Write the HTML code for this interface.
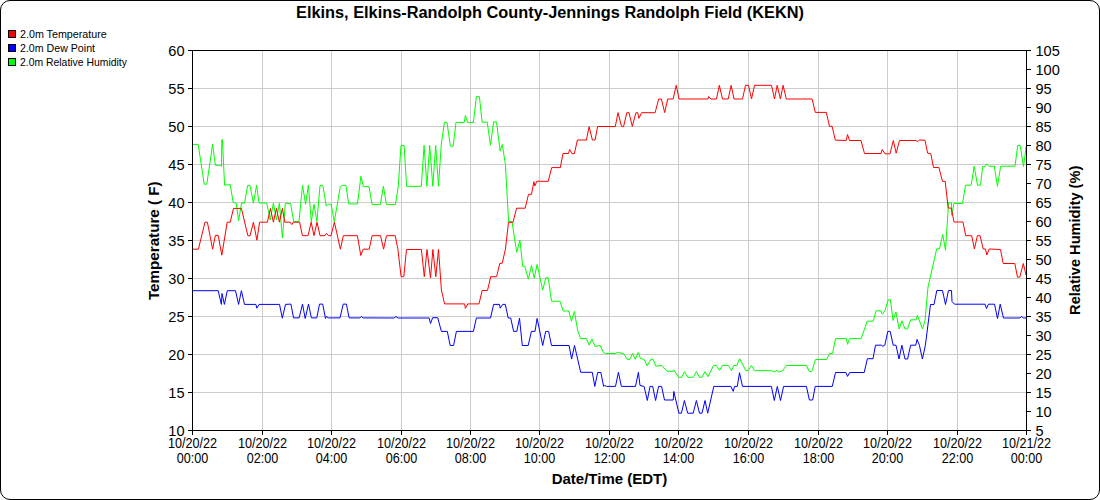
<!DOCTYPE html><html><head><meta charset="utf-8"><style>html,body{margin:0;padding:0;background:#fff;overflow:hidden;}svg{display:block;font-family:"Liberation Sans",sans-serif;}</style></head><body><svg width="1100" height="500" viewBox="0 0 1100 500"><rect x="0.5" y="0.5" width="1099" height="499" rx="9.5" ry="9.5" fill="#fff" stroke="#000" stroke-width="1"/>
<path d="M262.5 50V430M331.5 50V430M401.5 50V430M470.5 50V430M539.5 50V430M609.5 50V430M678.5 50V430M748.5 50V430M818.5 50V430M887.5 50V430M957.5 50V430M192 88.5H1026M192 126.5H1026M192 164.5H1026M192 202.5H1026M192 240.5H1026M192 278.5H1026M192 316.5H1026M192 354.5H1026M192 392.5H1026" stroke="#cccccc" stroke-width="1" fill="none"/>
<polyline fill="none" stroke="#00ff00" stroke-width="1" stroke-linejoin="miter" stroke-miterlimit="10" points="192,144.4 198.2,144.4 204.2,184.2 206.8,184.2 212.6,144.4 215.4,165.3 220.6,165.3 221.5,166.5 221.8,139.6 222.4,139.6 224.6,185.2 230.2,184.6 233.2,202.4 236.2,203.2 238.6,220.6 241.6,202.9 244.6,203.2 247.6,185.6 250,185.6 253.4,203.2 256.6,185.2 259,202.9 266.8,203.2 270.2,220 273.4,203.2 276.4,220 279.4,203.2 282.4,238 285.4,203.2 290.6,203.6 293.7,221.5 299,221.5 302.5,185.1 305.6,204.3 308.4,185.1 311.3,221.8 314,204.3 316.9,221.5 320,185.4 322.8,185.4 326.3,206.1 328.4,204.3 331.2,204.3 334.3,221.8 340.3,186.5 342.7,185.4 345.9,185.4 348.7,203.9 357.5,203.9 360.9,176.3 363.4,186.5 369,186.5 372,204.4 380.4,204.4 383.4,186.2 386.4,204.4 395.4,204.4 398.2,187 401,145.4 404.1,145.4 406.6,186.3 421.3,186.3 424.1,145.4 426.9,186.3 429.7,145.4 432.8,186.3 435.7,145.4 438.5,186.3 441.3,144 444.4,122.4 447,122.4 450.4,146.2 453.2,146.2 456,122.4 464.2,122.4 465.4,115.5 467.7,122.4 473.4,122.4 476.4,96.6 479.4,96.6 482.1,122.2 487.2,122.2 490.5,145.2 493.6,121.8 496.5,121.8 500.1,151.1 502.3,144.5 505.4,164.4 508.6,221.6 512,221.6 516.7,252.3 519.9,240 522.7,266.3 524.8,266.3 528.3,279.2 531.5,265.5 534.2,278.1 537.1,264.5 542.7,290.1 545.8,277.8 548.3,277.8 551.5,301.2 560,301.2 563.2,311 568.8,311 571.4,321.2 574.4,311.4 577.7,330.5 580.5,338.5 586.4,338.5 589.2,345.2 591.9,339 595,346.4 600.2,345.5 603.5,352.7 605.5,353.5 615.5,353.5 617.7,352.3 619.5,352.9 623.6,353.5 627.3,359.5 629.7,359.5 632.6,353.5 635.3,359.3 638.2,352.5 640.5,358.6 644.1,359.3 647.1,365.9 650.9,359.3 653.2,359.3 655.7,366.1 661.8,365.5 667,371.2 673.2,371.4 673.8,370 678.6,377.3 681.8,377.3 684.5,371.6 687.7,377.3 693.2,377.3 696.4,371.6 699.5,377.3 701.9,377.3 704.9,371.7 708,376.7 713.6,365.4 716.4,365.4 719.5,370.3 722.4,365.4 728.3,365.4 731.4,370.6 733.9,365.5 736.7,365.5 739.7,358.7 745.8,370.6 748.3,370.6 751.4,365.5 754.6,370.6 771.4,370.7 774.3,371.8 777,370.5 778.6,372 782.3,370.9 786.4,365.5 806.4,365.5 809.1,371.4 811.8,371.4 815.5,359.5 826.5,359.5 829.6,353.5 832.6,353.5 835.5,338.6 846.3,338.6 847.6,344.3 849.4,338.6 861.2,338.6 867.2,321.2 873.3,321.2 876,310.8 881,310.8 882.3,314.3 884.9,310.8 888.2,299.8 890.4,299.8 893.1,320.5 895.9,311.9 899.2,329 901.9,320.7 905,329 907.4,329 910.7,319.8 916.2,319.8 917.3,315.4 922.6,329 925,320.7 928,287 936.7,248.9 939.5,248.9 942.7,234.5 945.5,250.3 948.6,202.7 951.4,202.7 951.7,215.3 953.9,203.4 962.5,203.5 965.5,185.2 971.2,185.2 974.2,166.2 977.5,185.2 980.5,185.2 982.7,166.5 985,166.5 986.5,163.8 988.7,166.2 994.3,166.2 997.4,186.3 1000.7,166.2 1015,166.2 1017.7,145.5 1020.2,145.5 1023.5,166.5 1026.2,146.2"/>
<polyline fill="none" stroke="#0000ff" stroke-width="1" stroke-linejoin="miter" stroke-miterlimit="10" points="192,290.7 218.2,290.7 221.4,304.4 222,293.5 224.4,304.4 227.3,290.7 235.5,290.7 238.6,304.4 241.4,290.7 244.5,304.4 255.9,304.4 256.8,308.2 259.1,304.4 279.5,304.4 282.3,318.2 285.5,304.4 290.9,304.1 293.6,317.9 299.1,317.9 302.5,304.1 305.2,318.5 308.5,304.1 311.4,317.9 316.8,317.9 319.5,304.1 322.7,304.1 325.5,318.5 326.4,316.5 328.6,317.9 340,317.9 343.2,304.1 346.4,304.1 349.1,317.9 360,317.9 361.4,316.5 363.2,317.9 394.5,318 395.6,316.4 398.2,318 429.1,318 430.5,323.5 432.7,317.7 437.7,317.7 441.4,331.4 447.3,331.4 450.2,345.5 453.6,345.5 456.4,331.4 473.4,331.4 476.4,318 490.5,318 493.6,304.4 499.5,304.4 500.2,308.2 502.7,304.4 505.3,304.4 508.2,318 510.7,318 513.6,331.4 516.8,331.4 519.5,318.2 522.3,345.5 528.2,345.5 531.4,331.4 535,331.4 537.1,318.4 542.7,345.5 545.7,331.4 548.6,331.4 551.5,345.5 569.1,345.5 571.6,359.1 574.5,345.5 580.7,372.3 592.3,372.3 594.8,386.4 597.7,372.5 600.9,372.5 603.6,386.4 604.7,385.5 606.4,386.4 615.5,386.4 618.4,372.3 621.4,386.4 635.5,386.4 638.4,372.3 640,385.5 644.1,386.4 647.3,400.5 650,386.4 652.7,386.4 655.6,400.5 658.6,386.4 661.6,386.4 664.5,400 673.2,400 673.8,391.4 678.9,413.2 681.4,413.2 684.4,400.5 687.7,413.2 693.2,413.2 696.4,400.5 699.5,413.2 702,413.2 705,400.5 707.7,413.2 713.8,386.4 730.9,386.4 733.2,391.4 734.5,386.4 737.3,386.4 739.5,372.7 742.5,386.4 771.4,386.4 774.3,400.5 777.3,386.4 780.5,400.5 783.6,386.4 806.4,386.4 809.4,400 812.7,400 815.2,386.4 832.3,386.4 835.5,372.5 845.9,372.5 847.5,376.4 849.7,372.5 864.2,372.5 867.4,358.7 873,358.7 875.5,345.2 881.8,345.2 882.7,346.4 884.8,345.2 887.8,331.4 890.2,331.4 893.2,345.2 896,345.2 899,359 901.9,345.2 905,359 907.6,359 910.6,345.2 915.8,345.2 917,339.4 919.4,345.2 922.4,359 925.4,345.2 930.5,304.5 934,304.5 936.8,290.5 942.5,290.5 945.5,304.5 948.5,290.5 951.5,290.5 952,301.5 954.5,304.2 985,304.2 986.5,308.5 988.5,304.2 994.5,304.2 997.5,318.5 1000.2,304.2 1003.5,318 1020,318 1021.5,316.5 1023.5,318 1026,318"/>
<polyline fill="none" stroke="#ff0000" stroke-width="1" stroke-linejoin="miter" stroke-miterlimit="10" points="192,249.2 198.4,249.2 205,222.2 207.4,222.2 212.6,249.2 215.4,235.4 218.2,235.4 221.8,255.2 227.2,222.2 230.2,222.2 233.5,208.4 241.4,208.4 247.9,235.8 250,235.8 253.4,222.2 256.9,240.2 259.6,222.2 267.4,222.2 270.4,208.4 273.4,222.2 276.4,208.4 279.4,222.2 282.4,208.4 284.8,222.2 290.2,222.2 291.8,224.6 293.2,222.2 299.6,222.2 302.4,235.7 308,235.7 311.2,222.2 314,235.7 317,222.2 320,235.7 325,235.7 326.5,233.4 328.6,235.7 331,235.7 334.4,222.2 340.4,249.2 343.3,235.7 357.4,235.7 360.8,255.5 363.2,249.2 369.2,249.2 372.1,235.7 380.5,235.7 383.6,249.2 386.5,235.7 395.2,235.7 397.9,249.2 401.1,276.7 403.8,276.7 406.5,249.5 421.4,249.5 424.3,276.7 427,249.5 430.5,278 432.9,249.5 435.8,276.7 438.5,249.5 441.4,290 444.6,303.9 464.6,303.9 465.4,308.4 467.8,303.9 479,303.9 482.2,290.5 487.5,290.5 490.7,276.7 496.6,276.7 499.8,263.3 502.2,263.3 505.4,249.3 508.5,222.3 513,222.3 516.6,208.2 525.2,208.2 528.5,194.3 531.5,194.3 533.9,181.7 534.8,185.9 536.9,181.2 548.2,181.4 551.7,167.6 560.3,167.6 563,153.5 568.4,153.5 569.7,149.5 572,153.7 574.4,153.7 577.4,140 586.4,140 589.1,126.7 592.4,140 595.1,140 597.6,126.5 615.3,126.5 618,112.6 621.5,126.4 623.6,126.4 626.8,112.7 629,112.7 632.3,126.4 635.9,112.7 637.7,112.7 638.9,118.3 641.6,112.7 655.1,112.7 658.7,99 661.4,99 664.7,112.7 667.7,99 673.2,99 676.2,85.3 679.1,99 708,99 708.5,96.5 711,99 716.5,99 719.3,85.3 722.5,99 728.2,99 731.2,85.3 734,99 742.5,99 745.5,85.3 748.5,85.3 751.5,99 754.5,85.3 771.5,85.3 774.5,99 777.2,85.3 780.4,99 783.1,85.3 786.3,99 812.1,99 815.3,112.4 826.3,112.4 829.5,126.3 832.1,126.3 835.3,140.1 846.2,140.5 847.5,134.5 849.5,140.5 861,140.5 864.5,153.5 881,153.5 882.2,149.5 885,153.8 890,153.8 893.3,140.5 896.2,153.2 899.5,140.5 916,140.5 917.5,141.5 919.5,140 925,140.3 927.6,153.1 930.8,153.8 933.5,167.5 938.9,167.5 942.5,181.4 945.2,181.4 948.2,208.1 951.3,208.1 954,222 963,222 965.7,235.7 971.7,235.7 974.4,249 977.4,235.7 980.1,235.7 983.2,249 985.5,249 986.8,255 989.1,249 1000.5,249.5 1003.2,263.5 1014.8,263.5 1017.5,277.2 1019.8,277.2 1023.3,263.5 1026,275"/>
<path d="M192.5 50V430.5H1026.5V50.5H192" stroke="#000" stroke-width="1" fill="none"/>
<path d="M188 50.5H192M188 88.5H192M188 126.5H192M188 164.5H192M188 202.5H192M188 240.5H192M188 278.5H192M188 316.5H192M188 354.5H192M188 392.5H192M188 430.5H192M1026 50.5H1031M1026 69.5H1031M1026 88.5H1031M1026 107.5H1031M1026 126.5H1031M1026 145.5H1031M1026 164.5H1031M1026 183.5H1031M1026 202.5H1031M1026 221.5H1031M1026 240.5H1031M1026 259.5H1031M1026 278.5H1031M1026 297.5H1031M1026 316.5H1031M1026 335.5H1031M1026 354.5H1031M1026 373.5H1031M1026 392.5H1031M1026 411.5H1031M1026 430.5H1031M192.5 430V435M262.5 430V435M331.5 430V435M401.5 430V435M470.5 430V435M539.5 430V435M609.5 430V435M678.5 430V435M748.5 430V435M818.5 430V435M887.5 430V435M957.5 430V435M1026.5 430V435" stroke="#000" stroke-width="1" fill="none"/>
<g font-size="14.6" fill="#000"><text x="184.6" y="55.5" text-anchor="end">60</text><text x="184.6" y="93.5" text-anchor="end">55</text><text x="184.6" y="131.5" text-anchor="end">50</text><text x="184.6" y="169.5" text-anchor="end">45</text><text x="184.6" y="207.5" text-anchor="end">40</text><text x="184.6" y="245.5" text-anchor="end">35</text><text x="184.6" y="283.5" text-anchor="end">30</text><text x="184.6" y="321.5" text-anchor="end">25</text><text x="184.6" y="359.5" text-anchor="end">20</text><text x="184.6" y="397.5" text-anchor="end">15</text><text x="184.6" y="435.5" text-anchor="end">10</text><text x="1035.5" y="55.5">105</text><text x="1035.5" y="74.5">100</text><text x="1035.5" y="93.5">95</text><text x="1035.5" y="112.5">90</text><text x="1035.5" y="131.5">85</text><text x="1035.5" y="150.5">80</text><text x="1035.5" y="169.5">75</text><text x="1035.5" y="188.5">70</text><text x="1035.5" y="207.5">65</text><text x="1035.5" y="226.5">60</text><text x="1035.5" y="245.5">55</text><text x="1035.5" y="264.5">50</text><text x="1035.5" y="283.5">45</text><text x="1035.5" y="302.5">40</text><text x="1035.5" y="321.5">35</text><text x="1035.5" y="340.5">30</text><text x="1035.5" y="359.5">25</text><text x="1035.5" y="378.5">20</text><text x="1035.5" y="397.5">15</text><text x="1035.5" y="416.5">10</text><text x="1035.5" y="435.5">5</text></g>
<g font-size="14" fill="#000"><text x="167.9" y="448" textLength="49.2" lengthAdjust="spacingAndGlyphs">10/20/22</text><text x="176.7" y="463" textLength="31.6" lengthAdjust="spacingAndGlyphs">00:00</text><text x="237.9" y="448" textLength="49.2" lengthAdjust="spacingAndGlyphs">10/20/22</text><text x="246.7" y="463" textLength="31.6" lengthAdjust="spacingAndGlyphs">02:00</text><text x="306.9" y="448" textLength="49.2" lengthAdjust="spacingAndGlyphs">10/20/22</text><text x="315.7" y="463" textLength="31.6" lengthAdjust="spacingAndGlyphs">04:00</text><text x="376.9" y="448" textLength="49.2" lengthAdjust="spacingAndGlyphs">10/20/22</text><text x="385.7" y="463" textLength="31.6" lengthAdjust="spacingAndGlyphs">06:00</text><text x="445.9" y="448" textLength="49.2" lengthAdjust="spacingAndGlyphs">10/20/22</text><text x="454.7" y="463" textLength="31.6" lengthAdjust="spacingAndGlyphs">08:00</text><text x="514.9" y="448" textLength="49.2" lengthAdjust="spacingAndGlyphs">10/20/22</text><text x="523.7" y="463" textLength="31.6" lengthAdjust="spacingAndGlyphs">10:00</text><text x="584.9" y="448" textLength="49.2" lengthAdjust="spacingAndGlyphs">10/20/22</text><text x="593.7" y="463" textLength="31.6" lengthAdjust="spacingAndGlyphs">12:00</text><text x="653.9" y="448" textLength="49.2" lengthAdjust="spacingAndGlyphs">10/20/22</text><text x="662.7" y="463" textLength="31.6" lengthAdjust="spacingAndGlyphs">14:00</text><text x="723.9" y="448" textLength="49.2" lengthAdjust="spacingAndGlyphs">10/20/22</text><text x="732.7" y="463" textLength="31.6" lengthAdjust="spacingAndGlyphs">16:00</text><text x="793.9" y="448" textLength="49.2" lengthAdjust="spacingAndGlyphs">10/20/22</text><text x="802.7" y="463" textLength="31.6" lengthAdjust="spacingAndGlyphs">18:00</text><text x="862.9" y="448" textLength="49.2" lengthAdjust="spacingAndGlyphs">10/20/22</text><text x="871.7" y="463" textLength="31.6" lengthAdjust="spacingAndGlyphs">20:00</text><text x="932.9" y="448" textLength="49.2" lengthAdjust="spacingAndGlyphs">10/20/22</text><text x="941.7" y="463" textLength="31.6" lengthAdjust="spacingAndGlyphs">22:00</text><text x="1001.9" y="448" textLength="49.2" lengthAdjust="spacingAndGlyphs">10/21/22</text><text x="1010.7" y="463" textLength="31.6" lengthAdjust="spacingAndGlyphs">00:00</text></g>
<text x="296" y="17.8" font-size="16" font-weight="bold" textLength="508" lengthAdjust="spacingAndGlyphs">Elkins, Elkins-Randolph County-Jennings Randolph Field (KEKN)</text>
<text x="551.7" y="484" font-size="15.5" font-weight="bold" textLength="115.6" lengthAdjust="spacingAndGlyphs">Date/Time (EDT)</text>
<text transform="translate(159 300.1) rotate(-90)" font-size="15" font-weight="bold" textLength="118.7" lengthAdjust="spacingAndGlyphs">Temperature ( F)</text>
<text transform="translate(1080 314.9) rotate(-90)" font-size="15" font-weight="bold" textLength="149.2" lengthAdjust="spacingAndGlyphs">Relative Humidity (%)</text>
<rect x="8.5" y="30.5" width="7" height="7" fill="#ff0000" stroke="#000" stroke-width="1"/><text x="20" y="38" font-size="10.5" textLength="86.8" lengthAdjust="spacingAndGlyphs">2.0m Temperature</text><rect x="8.5" y="44.5" width="7" height="7" fill="#0000ff" stroke="#000" stroke-width="1"/><text x="20" y="52" font-size="10.5" textLength="75.0" lengthAdjust="spacingAndGlyphs">2.0m Dew Point</text><rect x="8.5" y="58.5" width="7" height="7" fill="#00ff00" stroke="#000" stroke-width="1"/><text x="20" y="66" font-size="10.5" textLength="106.9" lengthAdjust="spacingAndGlyphs">2.0m Relative Humidity</text>
</svg></body></html>
